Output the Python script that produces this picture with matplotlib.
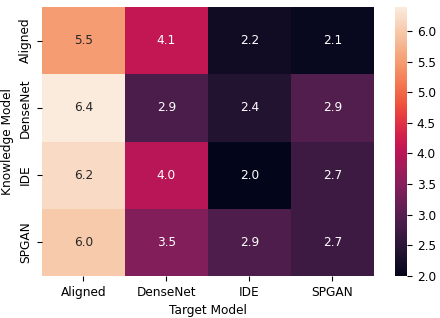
import matplotlib
matplotlib.use("Agg")
import matplotlib.pyplot as plt
import numpy as np
import pandas as pd
import seaborn as sns

models = ["Aligned", "DenseNet", "IDE", "SPGAN"]

row_aligned = [5.5, 4.1, 2.2, 2.1]
row_densenet = [6.39, 2.86, 2.4, 2.94]
row_ide = [6.2, 4.0, 2.0, 2.7]
row_spgan = [6.0, 3.45, 2.9, 2.7]

df = pd.DataFrame([row_aligned, row_densenet, row_ide, row_spgan],
                  index=models, columns=models)

plt.rcParams["font.size"] = 8.7

fig = plt.figure(figsize=(4.4, 3.18), dpi=100)
ax = fig.add_axes([0.095, 0.132, 0.755, 0.846])
cax = fig.add_axes([0.898, 0.132, 0.027, 0.846])

sns.heatmap(df, annot=True, fmt=".1f", ax=ax, cbar_ax=cax)
ax.set_xlabel("Target Model")
ax.set_ylabel("Knowledge Model")

fig.savefig("out.png", dpi=100)
